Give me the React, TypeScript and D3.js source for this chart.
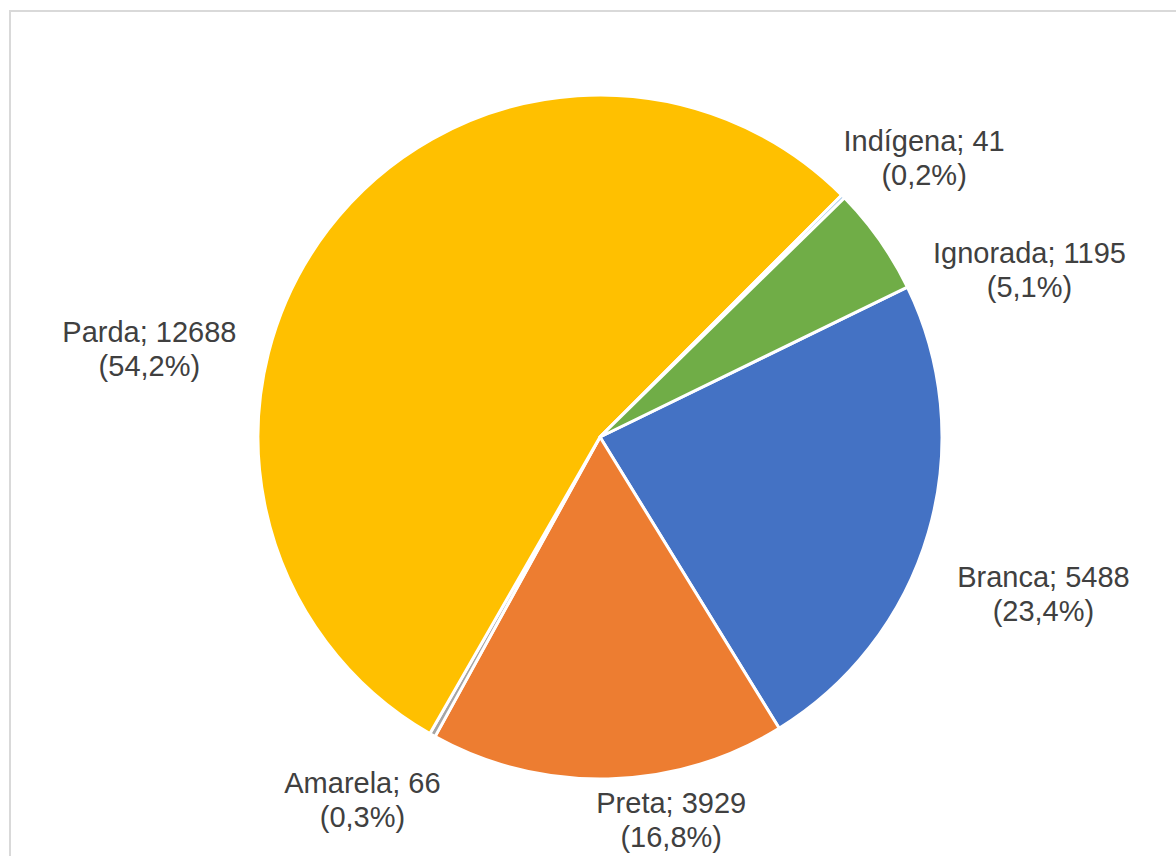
import React from "react";
import * as d3 from "d3";

const categories = ["Branca", "Preta", "Amarela", "Parda", "Indígena", "Ignorada"];
const values = [5488, 3929, 66, 12688, 41, 1195];
const percentLabels = ["23,4%", "16,8%", "0,3%", "54,2%", "0,2%", "5,1%"];
const colors = ["#4472C4", "#ED7D31", "#A5A5A5", "#FFC000", "#5B9BD5", "#70AD47"];
// label offsets (dx, dy of first baseline) from each slice's outer mid-point
const labelOffsets: [number, number][] = [
  [115, 55],
  [63, 34],
  [-70, 58],
  [-179, 113],
  [81, -45],
  [150, 23],
];

const W = 1176;
const H = 856;
const CX = 600;
const CY = 437;
const R = 342;
const START_DEG = 64;

export default function App() {
  const start = (START_DEG * Math.PI) / 180;
  const pie = d3
    .pie<number>()
    .sort(null)
    .value((d) => d)
    .startAngle(start)
    .endAngle(start + 2 * Math.PI);
  const arcs = pie(values);
  const arc = d3.arc<d3.PieArcDatum<number>>().innerRadius(0).outerRadius(R);
  const edge = d3.arc<d3.PieArcDatum<number>>().innerRadius(R).outerRadius(R);

  return (
    <svg
      width={W}
      height={H}
      style={{ position: "absolute", left: 0, top: 0, display: "block" }}
    >
      <rect x={0} y={0} width={W} height={H} fill="#ffffff" />
      <rect
        x={10}
        y={11}
        width={1300}
        height={1000}
        fill="none"
        stroke="#d9d9d9"
        strokeWidth={2}
      />
      <g transform={`translate(${CX},${CY})`}>
        {arcs.map((a, i) => (
          <path
            key={categories[i]}
            d={arc(a) || ""}
            fill={colors[i]}
            stroke="#ffffff"
            strokeWidth={3}
            strokeLinejoin="round"
          />
        ))}
        {arcs.map((a, i) => {
          const [ex, ey] = edge.centroid(a);
          const x = ex + labelOffsets[i][0];
          const y = ey + labelOffsets[i][1];
          return (
            <text
              key={"l" + categories[i]}
              x={x}
              y={y}
              textAnchor="middle"
              fontFamily="'Liberation Sans', Arial, sans-serif"
              fontSize={29}
              fill="#404040"
            >
              <tspan x={x} y={y}>
                {`${categories[i]}; ${values[i]}`}
              </tspan>
              <tspan x={x} y={y + 34}>
                {`(${percentLabels[i]})`}
              </tspan>
            </text>
          );
        })}
      </g>
    </svg>
  );
}
